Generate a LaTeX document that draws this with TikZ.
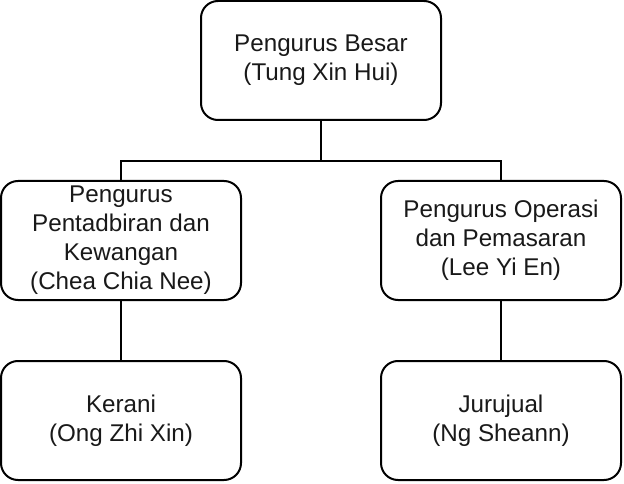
\documentclass[tikz,border=0pt]{standalone}
\usepackage{fontspec}
\setmainfont{Liberation Sans}
\begin{document}
\begin{tikzpicture}[x=1pt,y=-1pt,
  box/.style={draw=black, line width=2pt, rounded corners=17pt, fill=white,
    minimum width=240pt, minimum height=119pt, inner sep=0pt, align=center,
    text=black!90, font=\fontsize{24.2pt}{29pt}\selectfont},
  conn/.style={draw=black, line width=2pt}]
\useasboundingbox (0,0) rectangle (624,484);
\node[box] (top) at (321,60.5) {Pengurus Besar\\(Tung Xin Hui)};
\node[box] (left) at (121,240.5) {Pengurus\\Pentadbiran dan\\Kewangan\\(Chea Chia Nee)};
\node[box] (right) at (501,240.5) {Pengurus Operasi\\dan Pemasaran\\(Lee Yi En)};
\node[box] (bl) at (121,420.5) {Kerani\\(Ong Zhi Xin)};
\node[box] (br) at (501,420.5) {Jurujual\\(Ng Sheann)};
\coordinate (j) at (321,161);
\draw[conn] (top.south) -- (j) -| (left.north);
\draw[conn] (j) -| (right.north);
\draw[conn] (left.south) -- (bl.north);
\draw[conn] (right.south) -- (br.north);
\end{tikzpicture}
\end{document}
